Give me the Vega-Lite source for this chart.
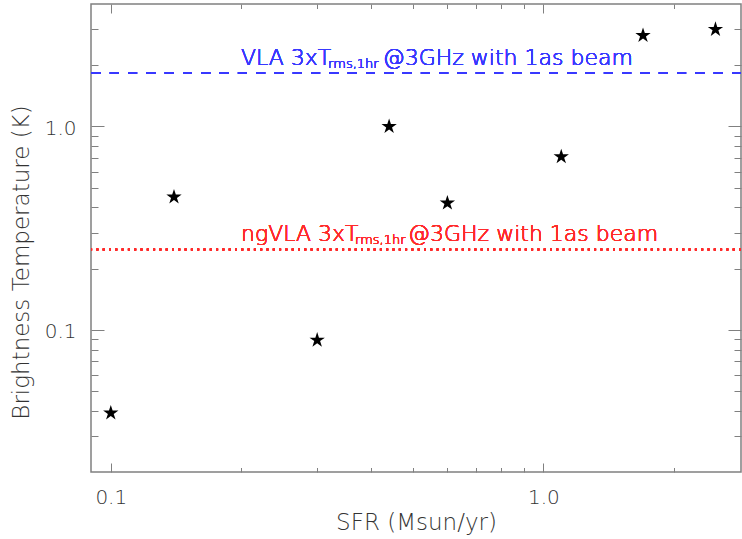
{
  "$schema": "https://vega.github.io/schema/vega-lite/v6.json",
  "autosize": {"type": "none"},
  "padding": {"left": 91, "top": 4, "right": 1, "bottom": 67},
  "width": 650,
  "height": 468,
  "background": "white",
  "data": {"values": [
    {"sfr": 0.1, "tb": 0.039},
    {"sfr": 0.14, "tb": 0.45},
    {"sfr": 0.30, "tb": 0.089},
    {"sfr": 0.44, "tb": 1.0},
    {"sfr": 0.60, "tb": 0.42},
    {"sfr": 1.1, "tb": 0.71},
    {"sfr": 1.7, "tb": 2.8},
    {"sfr": 2.5, "tb": 3.0}
  ]},
  "resolve": {"axis": {"x": "independent", "y": "independent"}},
  "layer": [
    {
      "mark": {"type": "point", "shape": "M0,-1L0.2245,-0.309L0.951,-0.309L0.363,0.118L0.588,0.809L0,0.382L-0.588,0.809L-0.363,0.118L-0.951,-0.309L-0.2245,-0.309Z", "filled": true, "color": "black", "size": 260, "opacity": 1},
      "encoding": {
        "x": {"field": "sfr", "type": "quantitative", "scale": {"type": "log", "domain": [0.09, 2.864], "nice": false},
              "axis": {"orient": "bottom", "values": [0.1, 0.2, 0.3, 0.4, 0.5, 0.6, 0.7, 0.8, 0.9, 1, 2], "labelExpr": "datum.value == 0.1 || datum.value == 1 ? format(datum.value, '.1f') : ''", "tickSize": {"condition": {"test": "datum.value == 0.1 || datum.value == 1", "value": -9}, "value": -4.5}, "labelPadding": 24, "labelBaseline": "top", "title": "SFR (Msun/yr)", "titlePadding": 4}},
        "y": {"field": "tb", "type": "quantitative", "scale": {"type": "log", "domain": [0.02, 4], "nice": false},
              "axis": {"orient": "left", "values": [0.03, 0.04, 0.05, 0.06, 0.07, 0.08, 0.09, 0.1, 0.2, 0.3, 0.4, 0.5, 0.6, 0.7, 0.8, 0.9, 1, 2, 3], "labelExpr": "datum.value == 0.1 || datum.value == 1 ? format(datum.value, '.1f') : ''", "tickSize": {"condition": {"test": "datum.value == 0.1 || datum.value == 1", "value": -13}, "value": -7}, "labelPadding": 28, "labelOffset": 2, "title": "Brightness Temperature (K)", "titlePadding": 11, "titleY": 258}}
      }
    },
    {
      "mark": {"type": "point", "opacity": 0},
      "encoding": {
        "x": {"field": "sfr", "type": "quantitative", "scale": {"type": "log", "domain": [0.09, 2.864], "nice": false},
              "axis": {"orient": "top", "values": [0.1, 0.2, 0.3, 0.4, 0.5, 0.6, 0.7, 0.8, 0.9, 1, 2], "labels": false, "tickSize": {"condition": {"test": "datum.value == 0.1 || datum.value == 1", "value": -9}, "value": -4.5}, "title": null}},
        "y": {"field": "tb", "type": "quantitative", "scale": {"type": "log", "domain": [0.02, 4], "nice": false},
              "axis": {"orient": "right", "values": [0.03, 0.04, 0.05, 0.06, 0.07, 0.08, 0.09, 0.1, 0.2, 0.3, 0.4, 0.5, 0.6, 0.7, 0.8, 0.9, 1, 2, 3], "labels": false, "tickSize": {"condition": {"test": "datum.value == 0.1 || datum.value == 1", "value": -13}, "value": -7}, "title": null}}
      }
    },
    {
      "mark": {"type": "rule", "color": "#3838ff", "strokeWidth": 2, "strokeDash": [9, 9.3]},
      "encoding": {"y": {"datum": 1.83, "type": "quantitative", "axis": null}}
    },
    {
      "mark": {"type": "rule", "color": "#ff2a2a", "strokeWidth": 2, "strokeDash": [2, 4.3]},
      "encoding": {"y": {"datum": 0.248, "type": "quantitative", "axis": null}}
    },
    {
      "mark": {"type": "text", "text": "VLA 3xT", "align": "left", "baseline": "alphabetic", "font": "DejaVu Sans", "fontWeight": 200, "fontSize": 22, "color": "#3838ff"},
      "encoding": {"x": {"datum": 0.2, "type": "quantitative", "axis": null}, "y": {"datum": 2.0, "type": "quantitative", "axis": null}}
    },
    {
      "mark": {"type": "text", "text": "rms,1hr", "align": "left", "baseline": "alphabetic", "font": "DejaVu Sans", "fontWeight": 200, "fontSize": 13, "dy": 3, "color": "#3838ff"},
      "encoding": {"x": {"datum": 0.318, "type": "quantitative", "axis": null}, "y": {"datum": 2.0, "type": "quantitative", "axis": null}}
    },
    {
      "mark": {"type": "text", "text": "@3GHz with 1as beam", "align": "left", "baseline": "alphabetic", "font": "DejaVu Sans", "fontWeight": 200, "fontSize": 22, "color": "#3838ff"},
      "encoding": {"x": {"datum": 0.4253, "type": "quantitative", "axis": null}, "y": {"datum": 2.0, "type": "quantitative", "axis": null}}
    },
    {
      "mark": {"type": "text", "text": "ngVLA 3xT", "align": "left", "baseline": "alphabetic", "font": "DejaVu Sans", "fontWeight": 200, "fontSize": 22, "color": "#ff2a2a"},
      "encoding": {"x": {"datum": 0.2, "type": "quantitative", "axis": null}, "y": {"datum": 0.273, "type": "quantitative", "axis": null}}
    },
    {
      "mark": {"type": "text", "text": "rms,1hr", "align": "left", "baseline": "alphabetic", "font": "DejaVu Sans", "fontWeight": 200, "fontSize": 13, "dy": 3, "color": "#ff2a2a"},
      "encoding": {"x": {"datum": 0.367, "type": "quantitative", "axis": null}, "y": {"datum": 0.273, "type": "quantitative", "axis": null}}
    },
    {
      "mark": {"type": "text", "text": "@3GHz with 1as beam", "align": "left", "baseline": "alphabetic", "font": "DejaVu Sans", "fontWeight": 200, "fontSize": 22, "color": "#ff2a2a"},
      "encoding": {"x": {"datum": 0.4866, "type": "quantitative", "axis": null}, "y": {"datum": 0.273, "type": "quantitative", "axis": null}}
    }
  ],
  "config": {
    "view": {"stroke": "#808080", "strokeWidth": 1.5},
    "axis": {"grid": false, "domain": false, "tickColor": "#808080", "tickWidth": 1, "labelColor": "#333333", "titleColor": "#333333", "labelFont": "DejaVu Sans", "titleFont": "DejaVu Sans", "labelFontSize": 20, "titleFontSize": 23, "titleFontWeight": 200, "labelFontWeight": 200}
  }
}
